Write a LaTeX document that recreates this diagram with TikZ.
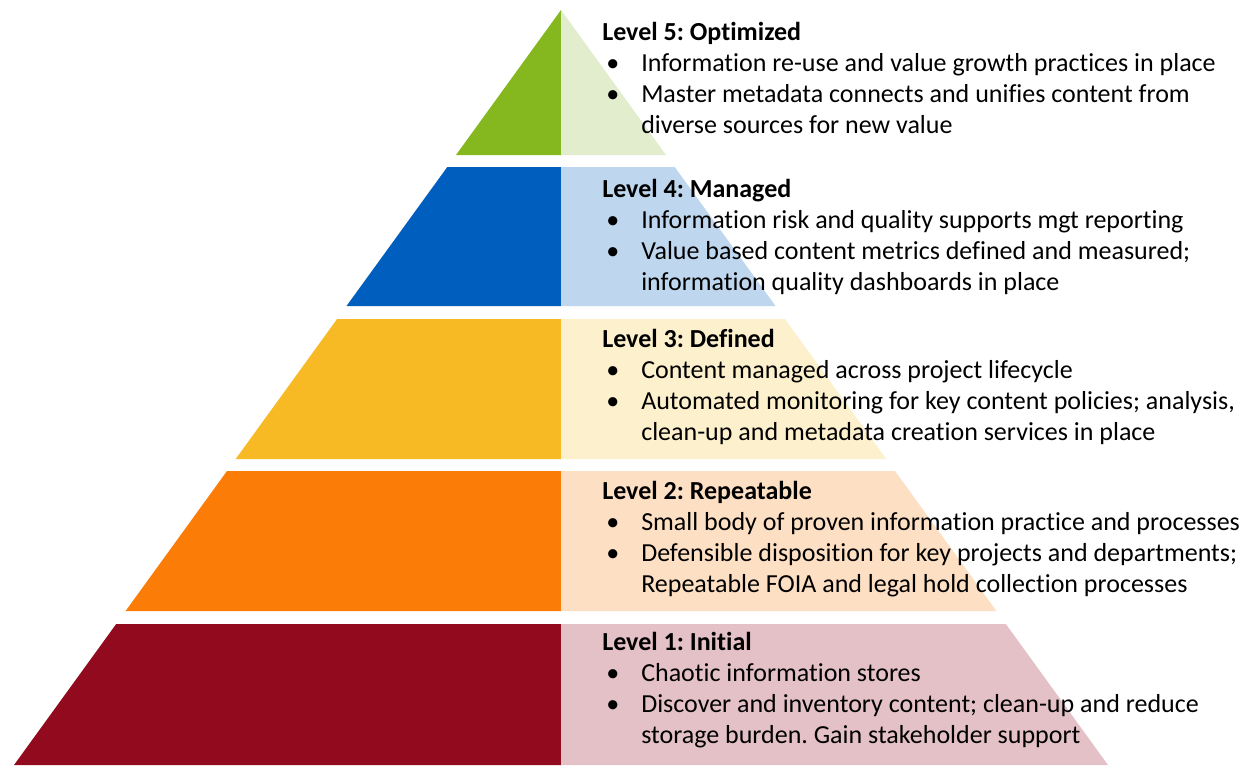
\documentclass[tikz,border=0pt]{standalone}
\usepackage{fontspec}
\setmainfont{Carlito}[Ligatures={NoCommon}]
\usepackage{tikz}

\definecolor{darkfive}{HTML}{84B81E}
\definecolor{lightfive}{HTML}{E1EDCC}
\definecolor{darkfour}{HTML}{005EBE}
\definecolor{lightfour}{HTML}{BED6EE}
\definecolor{darkthree}{HTML}{F7B924}
\definecolor{lightthree}{HTML}{FDF0CC}
\definecolor{darktwo}{HTML}{FC7C08}
\definecolor{lighttwo}{HTML}{FDDFC3}
\definecolor{darkone}{HTML}{910A1E}
\definecolor{lightone}{HTML}{E4C0C7}

\newcommand{\bul}{\makebox[29.25pt][l]{\hspace{3pt}\textbullet}}
\newcommand{\nobul}{\hspace*{29.25pt}}
\frenchspacing

\begin{document}
\begin{tikzpicture}[x=0.75pt, y=-0.75pt, lvl/.style = {anchor=base west, inner sep=0pt, font=\fontsize{19.5}{23.25}\selectfont}]
		\useasboundingbox[fill=white] (0,0) rectangle (1243,765);
		
		% level 5 (tip)
		\fill[darkfive] (561,10) -- (456,155) -- (561,155) -- cycle;
		\fill[lightfive] (561,10) -- (666,155) -- (561,155) -- cycle;
		% level 4
		\fill[darkfour] (447.3,167) -- (346.5,306) -- (561,306) -- (561,167) -- cycle;
		\fill[lightfour] (561,167) -- (561,306) -- (775.5,306) -- (674.7,167) -- cycle;
		% level 3
		\fill[darkthree] (337.1,319) -- (235.7,459) -- (561,459) -- (561,319) -- cycle;
		\fill[lightthree] (561,319) -- (561,459) -- (886.3,459) -- (784.9,319) -- cycle;
		% level 2
		\fill[darktwo] (227,471) -- (125.6,611) -- (561,611) -- (561,471) -- cycle;
		\fill[lighttwo] (561,471) -- (561,611) -- (996.4,611) -- (895,471) -- cycle;
		% level 1 (base)
		\fill[darkone] (116.2,624) -- (14,765) -- (561,765) -- (561,624) -- cycle;
		\fill[lightone] (561,624) -- (561,765) -- (1108,765) -- (1005.8,624) -- cycle;
		
		\node[lvl] (5) at (602,40) {\parbox[t]{500pt}{\textbf{Level 5: Optimized}\\
			\bul Information re-use and value growth practices in place\\
			\bul Master metadata connects and unifies content from\\
			\nobul diverse sources for new value}};
		\node[lvl] (4) at (602,197) {\parbox[t]{500pt}{\textbf{Level 4: Managed}\\
			\bul Information risk and quality supports mgt reporting\\
			\bul Value based content metrics defined and measured;\\
			\nobul information quality dashboards in place}};
		\node[lvl] (3) at (602,347) {\parbox[t]{500pt}{\textbf{Level 3: Defined}\\
			\bul Content managed across project lifecycle\\
			\bul Automated monitoring for key content policies; analysis,\\
			\nobul clean-up and metadata creation services in place}};
		\node[lvl] (2) at (602,499) {\parbox[t]{500pt}{\textbf{Level 2: Repeatable}\\
			\bul Small body of proven information practice and processes\\
			\bul Defensible disposition for key projects and departments;\\
			\nobul Repeatable FOIA and legal hold collection processes}};
		\node[lvl] (1) at (602,650) {\parbox[t]{500pt}{\textbf{Level 1: Initial}\\
			\bul Chaotic information stores\\
			\bul Discover and inventory content; clean-up and reduce\\
			\nobul storage burden. Gain stakeholder support}};
	\end{tikzpicture}
\end{document}
